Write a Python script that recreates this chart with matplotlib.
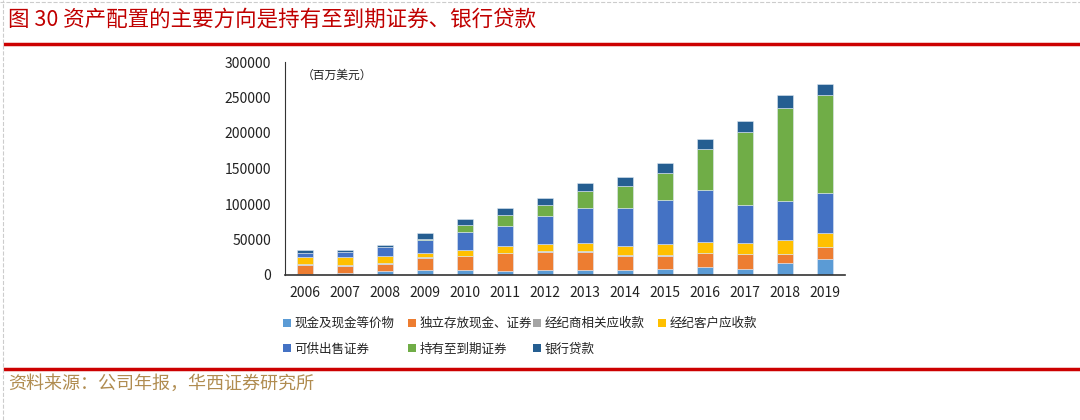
import matplotlib
matplotlib.use("Agg")
import matplotlib.pyplot as plt
import numpy as np
from matplotlib.patches import Patch
from matplotlib.lines import Line2D

plt.rcParams['font.family'] = ['Noto Sans CJK SC', 'DejaVu Sans']

# dados (百万美元)
anos = ['2006', '2007', '2008', '2009', '2010', '2011', '2012',
        '2013', '2014', '2015', '2016', '2017', '2018', '2019']
caixa = [1500, 2800, 5200, 7500, 7500, 5200, 7000, 7000, 7000, 8900, 11200, 8900, 16900, 23000]
independente = [13000, 10300, 10300, 15900, 19200, 25300, 25800, 25800, 20200, 18300, 19700, 20200, 12200, 15900]
corretoras = [500, 1400, 1900, 1900, 600, 500, 400, 300, 300, 300, 300, 300, 300, 300]
clientes = [10000, 10300, 9800, 5600, 7500, 9800, 9800, 11700, 13100, 15500, 15500, 15500, 19200, 19700]
disponiveis = [5500, 8000, 11700, 17800, 26200, 27700, 39800, 49700, 53900, 63300, 73600, 53900, 55800, 57200]
vencimento = [0, 0, 0, 2300, 9400, 15500, 15500, 23400, 31400, 37500, 57200, 102600, 130800, 136900]
emprestimos = [4200, 1900, 3750, 7500, 8400, 10300, 10300, 12200, 12200, 14100, 14100, 15900, 18300, 16400]

nomes = ['现金及现金等价物', '独立存放现金、证券', '经纪商相关应收款', '经纪客户应收款',
         '可供出售证券', '持有至到期证券', '银行贷款']
cores = ['#5B9BD5', '#ED7D31', '#A5A5A5', '#FFC000', '#4472C4', '#70AD47', '#255E91']
series = [caixa, independente, corretoras, clientes, disponiveis, vencimento, emprestimos]

fig = plt.figure(figsize=(10.8, 4.2), dpi=100)
ax = fig.add_axes([285 / 1080, 1 - 275 / 420, 560 / 1080, 213 / 420])

x = np.arange(len(anos))
base = np.zeros(len(anos))
for vals, cor in zip(series, cores):
    ax.bar(x, vals, width=0.4, bottom=base, color=cor, edgecolor='#DCE6F2', linewidth=0.4)
    base += np.array(vals)

ax.set_xlim(-0.5, len(anos) - 0.5)
ax.set_ylim(0, 300000)
ax.set_yticks(np.arange(0, 300001, 50000))
ax.set_yticklabels([str(v) for v in range(0, 300001, 50000)], fontsize=10, color='#222222')
ax.set_xticks(x)
ax.set_xticklabels(anos, fontsize=10, color='#222222')
ax.tick_params(length=0, pad=10)
ax.tick_params(axis='x', pad=8)
for s in ['top', 'right']:
    ax.spines[s].set_visible(False)
ax.spines['left'].set_color('#333333')
ax.spines['bottom'].set_color('#333333')
ax.spines['bottom'].set_linewidth(1.2)
ax.text(0.03, 0.97, '（百万美元）', transform=ax.transAxes, fontsize=8.5, va='top', color='#222222')

# legenda: uma coluna por posição, como no Excel
colunas = [[0, 4], [1, 5], [2, 6], [3]]
xs = [278, 403, 528, 653]
for col, xpos in zip(colunas, xs):
    leg = fig.legend([Patch(facecolor=cores[i], edgecolor='none') for i in col],
                     [nomes[i] for i in col], ncol=1,
                     loc='upper left', bbox_to_anchor=(xpos / 1080, 1 - 312 / 420),
                     frameon=False, fontsize=9, handlelength=0.6, handleheight=0.6,
                     handletextpad=0.3, labelspacing=1.0, borderaxespad=0)
    for t in leg.get_texts():
        t.set_color('#222222')

# título e linhas
fig.text(8 / 1080, 1 - 20 / 420, '图 30 资产配置的主要方向是持有至到期证券、银行贷款',
         fontsize=15.5, color='#C00000', va='center', ha='left')
fig.add_artist(Line2D([5 / 1080, 1], [1 - 44 / 420] * 2, color='#CC0000', lw=2.5))
fig.add_artist(Line2D([5 / 1080, 1], [1 - 369 / 420] * 2, color='#CC0000', lw=2.5))
fig.add_artist(Line2D([3 / 1080, 3 / 1080], [0, 1], color='#CCCCCC', lw=0.8, ls='--'))
fig.add_artist(Line2D([0, 1], [1 - 2 / 420] * 2, color='#CCCCCC', lw=0.8, ls='--'))
fig.text(8 / 1080, 1 - 384 / 420, '资料来源：公司年报，华西证券研究所',
         fontsize=13, color='#B08C50', va='center', ha='left')

fig.savefig('out.png', dpi=100)
